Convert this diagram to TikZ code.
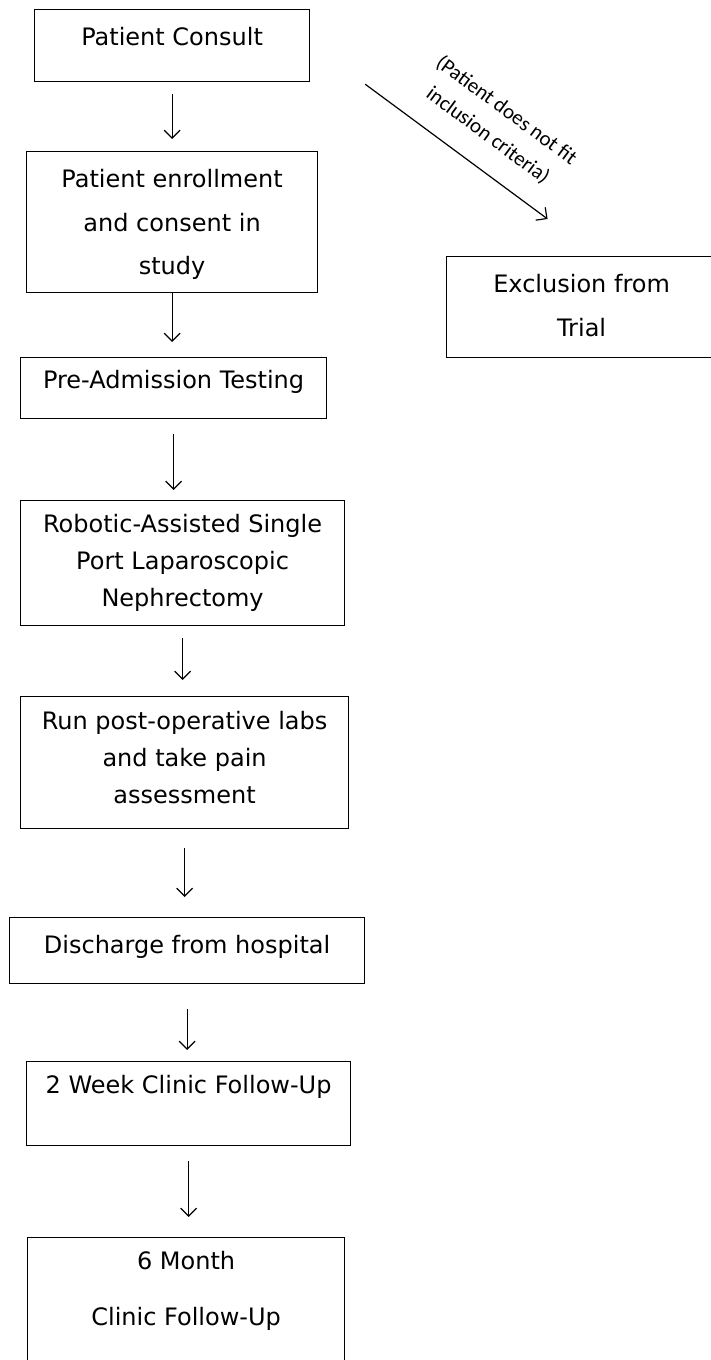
\documentclass[tikz,border=0pt]{standalone}
\usepackage{fontspec}
\setmainfont{DejaVu Sans}
\newfontfamily\notefont{Carlito}
\usetikzlibrary{arrows.meta}

\tikzset{
  stepbox/.style={draw, line width=1.2pt, inner sep=0pt, anchor=north west,
    font=\fontsize{24}{43}\selectfont},
  flow/.style={-{Straight Barb[length=8pt,width=16pt]}, line width=1.2pt},
}
\newcommand{\lines}[1]{\begin{tabular}[t]{@{}c@{}}#1\end{tabular}}

\begin{document}
\begin{tikzpicture}[x=1pt,y=1pt]
\useasboundingbox (0,0) rectangle (710,-1360);

\node(consult)[stepbox, minimum width=275pt, text height=36pt, text depth=36pt] at (34,-9)
  {\lines{Patient Consult}};
\node(enrol)[stepbox, minimum width=291pt, text height=36pt, text depth=105pt,
  font=\fontsize{24}{43.5}\selectfont] at (26,-151)
  {\lines{Patient enrollment\\and consent in\\study}};
\node(exclude)[stepbox, minimum width=270pt, text height=36pt, text depth=65pt,
  font=\fontsize{24}{44}\selectfont] at (446,-256)
  {\lines{Exclusion from\\Trial}};
\node(pretest)[stepbox, minimum width=306pt, text height=31pt, text depth=30pt] at (20,-357)
  {\lines{Pre-Admission Testing}};
\node(robot)[stepbox, minimum width=324pt, text height=32pt, text depth=93pt,
  font=\fontsize{24}{37}\selectfont] at (20,-500)
  {\lines{Robotic-Assisted Single\\Port Laparoscopic\\Nephrectomy}};
\node(postop)[stepbox, minimum width=328pt, text height=33pt, text depth=99pt,
  font=\fontsize{24}{37}\selectfont] at (20,-696)
  {\lines{Run post-operative labs\\and take pain\\assessment}};
\node(discharge)[stepbox, minimum width=355pt, text height=36pt, text depth=30pt] at (9,-917)
  {\lines{Discharge from hospital}};
\node(twoweek)[stepbox, minimum width=324pt, text height=32pt, text depth=52pt] at (26,-1061)
  {\lines{2 Week Clinic Follow-Up}};
\node(sixmonth)[stepbox, minimum width=317pt, text height=32pt, text depth=140pt,
  font=\fontsize{24}{56}\selectfont] at (27,-1237)
  {\lines{6 Month\\Clinic Follow-Up}};

\draw[flow, shorten <=12pt, shorten >=12pt] (consult.south) -- (consult.south |- enrol.north);
\draw[flow, shorten >=15pt] (enrol.south) -- (enrol.south |- pretest.north);
\draw[flow, shorten <=15pt, shorten >=10pt] (pretest.south) -- (pretest.south |- robot.north);
\draw[flow, shorten <=12pt, shorten >=16pt] (robot.south) -- (robot.south |- postop.north);
\draw[flow, shorten <=19pt, shorten >=20pt] (postop.south) -- (postop.south |- discharge.north);
\draw[flow, shorten <=25pt, shorten >=11pt] (discharge.south) -- (discharge.south |- twoweek.north);
\draw[flow, shorten <=15pt, shorten >=20pt] (twoweek.south) -- (twoweek.south |- sixmonth.north);

\draw[flow] ([shift={(55pt,-2pt)}]consult.south east)
-- node[sloped, above=22pt, pos=0.57, align=center, inner sep=0pt,
  font=\notefont\fontsize{21}{31}\selectfont]{(Patient does not fit\\inclusion criteria)}
([shift={(-34pt,37pt)}]exclude.north);

\end{tikzpicture}
\end{document}
